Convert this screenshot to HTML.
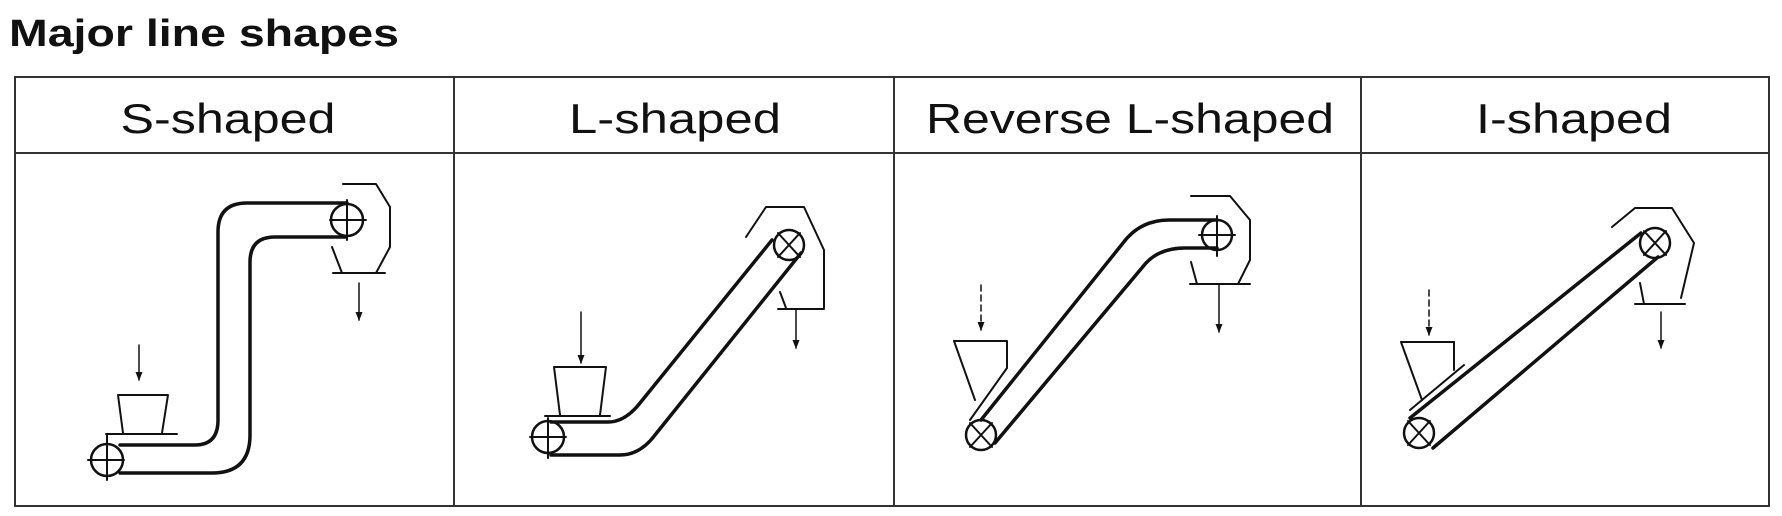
<!DOCTYPE html>
<html><head><meta charset="utf-8"><style>
html,body{margin:0;padding:0;background:#fff;}
svg{display:block;}
</style></head><body>
<svg width="1782" height="516" viewBox="0 0 1782 516" xmlns="http://www.w3.org/2000/svg" font-family="Liberation Sans, sans-serif">
<rect width="1782" height="516" fill="#fff"/>
<text x="9" y="46" font-size="38" font-weight="bold" fill="#111" textLength="390" lengthAdjust="spacingAndGlyphs">Major line shapes</text>
<g stroke="#333" stroke-width="2" fill="none">
<rect x="15" y="77" width="1754" height="429"/>
<line x1="15" y1="153" x2="1769" y2="153"/>
<line x1="454" y1="77" x2="454" y2="506"/>
<line x1="894" y1="77" x2="894" y2="506"/>
<line x1="1361" y1="77" x2="1361" y2="506"/>
</g>
<g font-size="42" fill="#111" text-anchor="middle">
<text x="228" y="133" textLength="215" lengthAdjust="spacingAndGlyphs">S-shaped</text>
<text x="675" y="133" textLength="212" lengthAdjust="spacingAndGlyphs">L-shaped</text>
<text x="1130" y="133" textLength="408" lengthAdjust="spacingAndGlyphs">Reverse L-shaped</text>
<text x="1574" y="133" textLength="196" lengthAdjust="spacingAndGlyphs">I-shaped</text>
</g>
<defs><marker id="ah" markerWidth="9" markerHeight="7" refX="8" refY="3.5" orient="auto" markerUnits="userSpaceOnUse"><path d="M0,0 L9,3.5 L0,7 Z" fill="#111"/></marker></defs>
<g stroke="#111" fill="none" stroke-linecap="round" stroke-linejoin="round">
<!-- S-shaped -->
<path d="M120,473 H212 Q250,473 250,435 V262 Q250,237 275,237 H345" stroke-width="3.5"/>
<path d="M120,445 H195 Q218,445 218,420 V232 Q218,203 247,203 H347" stroke-width="3.5"/>
<circle cx="107" cy="460" r="16" stroke-width="2.5"/>
<path d="M88,460 H124 M107,440 V480" stroke-width="2"/>
<circle cx="347" cy="220" r="16" stroke-width="2.5"/>
<path d="M330,220 H366 M347,200 V240" stroke-width="2"/>
<path d="M343,184 H376 L390,207 V247 L376,273 M332,247 L342,273 M333,273 H385" stroke-width="2"/>
<path d="M359,283 V320" stroke-width="1.5" marker-end="url(#ah)"/>
<path d="M139,345 V380" stroke-width="1.5" marker-end="url(#ah)"/>
<path d="M118,395 H168 L162,433 M118,395 L123,433 M106,434 H177 M107,434 V445" stroke-width="2"/>
<!-- L-shaped -->
<path d="M551,455 H620 Q640,455 655,435 L801,253" stroke-width="3.5"/>
<path d="M551,422 H608 Q625,422 640,403 L772,240" stroke-width="3.5"/>
<circle cx="548" cy="437" r="16" stroke-width="2.5"/>
<path d="M530,437 H566 M548,418 V458" stroke-width="2"/>
<circle cx="789" cy="245" r="15" stroke-width="2.5"/>
<path d="M778,233 L800,257 M800,233 L778,257" stroke-width="2"/>
<path d="M746,237 L766,207 H804 L824,250 V308 M780,292 L786,308 M778,309 H824" stroke-width="2"/>
<path d="M796,310 V348" stroke-width="1.5" marker-end="url(#ah)"/>
<path d="M581,312 V363" stroke-width="1.5" marker-end="url(#ah)"/>
<path d="M554,367 H606 L600,415 M554,367 L560,415 M545,416 H610" stroke-width="2"/>
<!-- Reverse L -->
<path d="M995,443 L1146,263 Q1160,248 1185,248 H1217" stroke-width="3.5"/>
<path d="M981,420 L1123,243 Q1140,220 1169,220 H1217" stroke-width="3.5"/>
<path d="M970,420 L1007,368" stroke-width="2"/>
<circle cx="981" cy="435" r="15" stroke-width="2.5"/>
<path d="M970,423 L992,447 M992,423 L970,447" stroke-width="2"/>
<circle cx="1217" cy="235" r="15" stroke-width="2.5"/>
<path d="M1199,235 H1235 M1217,216 V256" stroke-width="2"/>
<path d="M1191,196 H1230 L1250,220 V260 L1238,284 M1191,262 L1197,284 M1190,284 H1250" stroke-width="2"/>
<path d="M1219,285 V332" stroke-width="1.5" marker-end="url(#ah)"/>
<path d="M981,285 V330" stroke-width="1.5" stroke-dasharray="6,4" marker-end="url(#ah)"/>
<path d="M954,341 H1007 V367 M954,341 L975,400" stroke-width="2"/>
<!-- I-shaped -->
<path d="M1433,448 L1658,257" stroke-width="3.5"/>
<path d="M1410,418 L1641,233" stroke-width="3.5"/>
<path d="M1410,410 L1464,365" stroke-width="2"/>
<circle cx="1419" cy="433" r="15" stroke-width="2.5"/>
<path d="M1408,421 L1430,445 M1430,421 L1408,445" stroke-width="2"/>
<circle cx="1655" cy="243" r="15" stroke-width="2.5"/>
<path d="M1644,231 L1666,255 M1666,231 L1644,255" stroke-width="2"/>
<path d="M1612,227 L1635,208 H1672 L1694,243 L1681,298 M1640,283 L1644,304 M1635,304 H1685" stroke-width="2"/>
<path d="M1661,312 V348" stroke-width="1.5" marker-end="url(#ah)"/>
<path d="M1429,290 V335" stroke-width="1.5" stroke-dasharray="6,4" marker-end="url(#ah)"/>
<path d="M1401,342 H1454 V370 M1401,342 L1422,400" stroke-width="2"/>
</g>
</svg>
</body></html>
